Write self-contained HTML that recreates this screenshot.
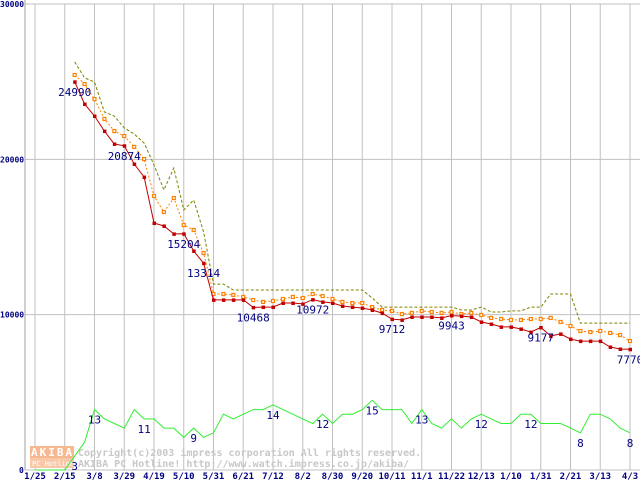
<!DOCTYPE html>
<html><head><meta charset="utf-8">
<style>
html,body{margin:0;padding:0;background:#fff;}
svg{display:block;font-family:"DejaVu Sans Mono","Liberation Mono",monospace;}
</style></head>
<body>
<svg id="chart" width="640" height="480" viewBox="0 0 640 480" xmlns="http://www.w3.org/2000/svg">
<g id="grid"></g>
<g id="wm">
  <rect x="30" y="446" width="44" height="12" fill="#f6b890"/>
  <rect x="30" y="458" width="44" height="10" fill="#f8c8a8"/>
  <text x="31" y="456" font-size="11" fill="#fff" font-weight="bold" letter-spacing="2">AKIBA</text>
  <text x="32" y="466" font-size="7" fill="#fff">PC Hotline</text>
  <text x="78" y="456" font-size="10" fill="#c8c8c8" font-weight="bold">Copyright(c)2003 impress corporation All rights reserved.</text>
  <text x="78" y="467" font-size="10" fill="#c8c8c8" font-weight="bold">AKIBA PC Hotline!  http://www.watch.impress.co.jp/akiba/</text>
</g>
<g id="series"></g>
<g id="labels"></g>
</svg>
<script>
const xTickLabels=["1/25","2/15","3/8","3/29","4/19","5/10","5/31","6/21","7/12","8/2","8/30","9/20","10/11","11/1","11/22","12/13","1/10","1/31","2/21","3/13","4/3"];
const yTickValues=[0,10000,20000,30000];
const startWeek=4;
const minPrice=[24990,23560,22790,21820,20990,20874,19700,18860,15900,15710,15200,15204,14100,13314,10950,10950,10950,10950,10468,10490,10490,10750,10750,10690,10972,10820,10750,10560,10490,10430,10300,10100,9712,9660,9850,9850,9850,9790,9943,9910,9850,9530,9400,9210,9210,9080,8880,9177,8630,8760,8430,8300,8300,8300,7920,7790,7770];
const avgPrice=[25430,24850,23880,22600,21820,21500,20800,20020,17640,16610,17510,15770,15450,13970,11330,11330,11270,11140,10940,10820,10880,11010,11140,11070,11330,11200,11010,10820,10750,10750,10490,10300,10240,10040,10110,10240,10170,10110,10170,10040,10110,9980,9790,9720,9660,9660,9720,9720,9790,9530,9270,8950,8880,8950,8820,8690,8300];
const maxPrice=[26270,25240,24980,23050,22790,22020,21630,21050,19640,18030,19440,16740,17380,15320,11970,11970,11590,11590,11590,11590,11590,11590,11590,11590,11590,11590,11590,11590,11590,11590,11070,10490,10490,10490,10490,10490,10490,10490,10490,10300,10300,10490,10170,10170,10240,10240,10490,10490,11330,11330,11330,9460,9460,9460,9460,9460,9460];
const shopCount=[0,0,0,0,3,6,13,11,10,9,13,11,11,9,9,7,9,7,8,12,11,12,13,13,14,13,12,11,10,12,10,12,12,13,15,13,13,13,10,13,10,9,11,9,11,12,11,10,10,12,12,10,10,10,9,8,12,12,11,9,8];
const priceLabelWeeks=[4,9,15,17,22,28,36,42,51,60];
const countLabelWeeks=[4,6,11,16,24,29,34,39,45,50,55,60];

const NS="http://www.w3.org/2000/svg";
function xw(w){return 35+w*(595/60);}
function yp(v){return 470-v*(466/30000);}
function yc(c){return 470-c*4.65;}
function mk(tag,attrs,parent){const e=document.createElementNS(NS,tag);for(const k in attrs)e.setAttribute(k,attrs[k]);parent.appendChild(e);return e;}
const grid=document.getElementById('grid'),ser=document.getElementById('series'),lab=document.getElementById('labels');

xTickLabels.forEach((t,i)=>{
  const x=xw(i*3);
  const l=mk('line',{x1:x,y1:4,x2:x,y2:470,stroke:'#c0c0c0','stroke-width':1},grid);
  
  
  const tx=mk('text',{x:x,y:479,'font-size':9,fill:'#000080','text-anchor':'middle','font-weight':'bold'},grid);
  tx.textContent=t;
  
  
});
yTickValues.forEach(v=>{
  const y=yp(v);
  const l=mk('line',{x1:25,y1:y,x2:640,y2:y,stroke:'#c0c0c0','stroke-width':1},grid);
  
  
  const tx=mk('text',{x:v===0?19:0,y:y+3,'font-size':8,fill:'#000080','font-weight':'bold'},grid);
  tx.textContent=String(v);
  
  
});
const ax=mk('line',{x1:25,y1:0,x2:25,y2:470,stroke:'#a0a0a0','stroke-width':1},grid);



function pts(arr,off,fy){return arr.map((v,i)=>xw(i+off).toFixed(1)+','+fy(v).toFixed(1)).join(' ');}
const gl=mk('polyline',{points:pts(shopCount,0,yc),fill:'none',stroke:'#33ee33','stroke-width':1},ser);


const ol=mk('polyline',{points:pts(maxPrice,startWeek,yp),fill:'none',stroke:'#808000','stroke-width':1,'stroke-dasharray':'3,2'},ser);


const al=mk('polyline',{points:pts(avgPrice,startWeek,yp),fill:'none',stroke:'#ff8000','stroke-width':1,'stroke-dasharray':'2,2'},ser);


avgPrice.forEach((v,i)=>{
  const r=mk('rect',{x:xw(i+startWeek)-1.5,y:yp(v)-1.5,width:3,height:3,fill:'#fff',stroke:'#ff8000','stroke-width':1.2},ser);
  
  
});
const rl=mk('polyline',{points:pts(minPrice,startWeek,yp),fill:'none',stroke:'#c00000','stroke-width':1},ser);


minPrice.forEach((v,i)=>{
  const r=mk('rect',{x:xw(i+startWeek)-1.5,y:yp(v)-1.5,width:3.5,height:3.5,fill:'#c00000'},ser);
  
  
});
priceLabelWeeks.forEach(w=>{
  const v=minPrice[w-startWeek];
  const tx=mk('text',{x:xw(w),y:yp(v)+14,'font-size':11,fill:'#000080','text-anchor':'middle'},lab);
  tx.textContent=String(v);
  
  
});
countLabelWeeks.forEach(w=>{
  const c=shopCount[w];
  const tx=mk('text',{x:xw(w),y:yc(c)+14,'font-size':11,fill:'#000080','text-anchor':'middle'},lab);
  tx.textContent=String(c);
  
  
});
</script>
</body></html>
